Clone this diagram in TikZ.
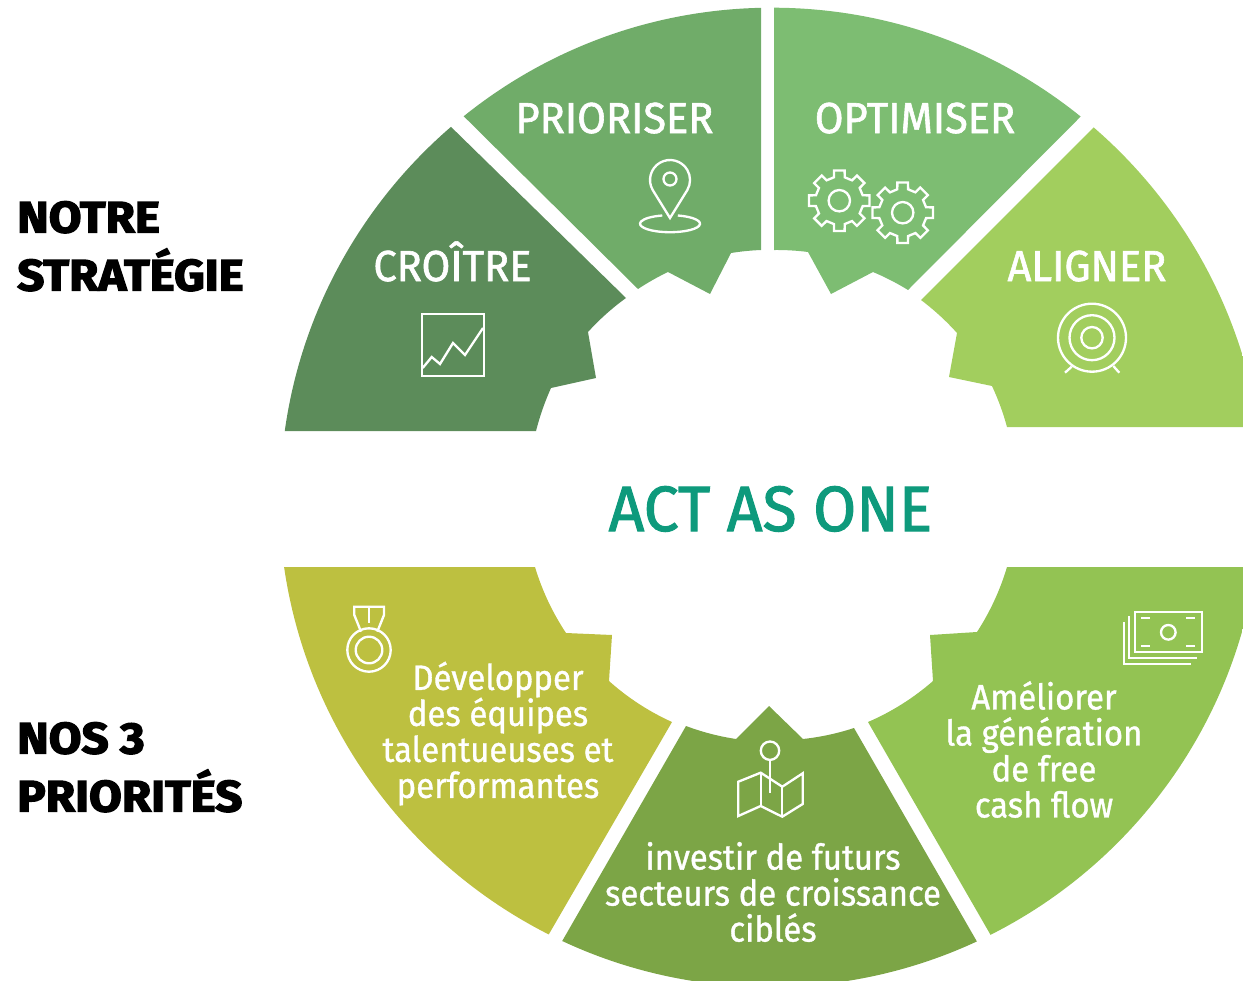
\documentclass[tikz,border=0pt]{standalone}
\usepackage{fontspec}
\setmainfont[FakeStretch=0.975,FakeBold=1.6]{Fira Sans}
\newfontfamily\capsfont[FakeStretch=0.96,FakeBold=1.4]{Fira Sans}
\newfontfamily\bodyfont[FakeStretch=0.93,FakeBold=1.0]{Fira Sans}
\newfontfamily\headfont[FakeStretch=1.08,BoldFeatures={FakeBold=3}]{Fira Sans}
\definecolor{cCroitre}{HTML}{5C8C5A}
\definecolor{cPrior}{HTML}{70AC69}
\definecolor{cOptim}{HTML}{7DBD72}
\definecolor{cAlign}{HTML}{A2CE5E}
\definecolor{cDev}{HTML}{BDC040}
\definecolor{cInvest}{HTML}{7CA546}
\definecolor{cAmel}{HTML}{93C353}
\definecolor{cTeal}{HTML}{0E9A7C}
\tikzset{
  icon/.style={draw=white,line width=1.75pt,line join=miter},
  caplabel/.style={anchor=base,text=white,inner sep=0pt,font=\capsfont\fontsize{32.5}{36}\selectfont},
  bodylabel/.style={anchor=center,text=white,inner sep=0pt,align=center,font=\bodyfont\fontsize{26.5}{27}\selectfont},
  headlabel/.style={anchor=base west,text=black,inner sep=0pt,font=\headfont\bfseries\fontsize{33}{36}\selectfont},
  centrelabel/.style={anchor=base,text=cTeal,inner sep=0pt,font=\fontsize{48}{52}\selectfont},
}
\newcommand{\gearicon}[2]{%
  \begin{scope}[shift={(#1,#2)}]
    \draw[icon] ({-13}:24) \foreach \a in {0,45,...,315}{ -- ({\a-13}:24) -- ({\a-10}:30.7) -- ({\a+10}:30.7) -- ({\a+13}:24) } -- cycle;
    \draw[icon] (0,0) circle[radius=10.7];
  \end{scope}}
\begin{document}
\begin{tikzpicture}[x=0.75pt,y=-0.75pt]
\useasboundingbox (0,0) rectangle (1243,981);
\clip (0,0) rectangle (1243,981);
% upper half of the ring
\begin{scope}
  \clip (772,499.7) circle[radius=492];
  \fill[cCroitre] (626,298) to[bend right=6,looseness=.85] (588,332) -- (596,378) -- (551,388) to[bend right=5,looseness=.85] (536,431) -- (200,431) -- (200,77) -- (400,77) -- cycle;
  \fill[cPrior] (761,250) to[bend right=3.4,looseness=.85] (731,253) -- (710,294) -- (668,272) to[bend right=4,looseness=.85] (638,289) -- (412,65) -- (412,0) -- (761,0) -- cycle;
  \fill[cOptim] (774,250) to[bend left=3.9,looseness=.85] (808,252) -- (831,294) -- (873,272) to[bend left=4.5,looseness=.85] (908,290) -- (1130,67) -- (1130,0) -- (774,0) -- cycle;
  \fill[cAlign] (921,300) to[bend left=5.6,looseness=.85] (957,333) -- (949,377) -- (992,386) to[bend left=5,looseness=.85] (1007,427) -- (1300,427) -- (1300,77) -- (1144,77) -- cycle;
\end{scope}
% lower half of the ring
\begin{scope}
  \clip (770,496) circle[radius=491];
  \fill[cDev] (535,567) to[bend right=8.5,looseness=.85] (566,633) -- (612,635) -- (609,681) to[bend right=8.8,looseness=.85] (672,722) -- (520,984) -- (200,984) -- (200,567) -- cycle;
  \fill[cInvest] (686,726) to[bend right=6,looseness=.85] (736,739) -- (769,706) -- (803,739) to[bend right=6,looseness=.85] (854,728) -- (1006,992) -- (534,990) -- cycle;
  \fill[cAmel] (868,722) to[bend right=9,looseness=.85] (933,681) -- (930,635) -- (977,632) to[bend right=8.3,looseness=.85] (1007,567) -- (1300,567) -- (1300,986) -- (1020,986) -- cycle;
\end{scope}
% icons
\draw[icon] (421.7,314) rectangle (484,376);
\draw[icon] (422.7,368) -- (431.7,357) -- (440,364) -- (453,343) -- (465,355) -- (483,328);
\draw[icon] (670,218) -- (652.7,190) arc[start angle=150,end angle=390,radius=20] -- cycle;
\draw[icon] (670,179) circle[radius=6.5];
\draw[icon] (677.8,215.5) arc[start angle=-75,end angle=255,x radius=30,y radius=8.5];
\gearicon{839.3}{200.7}
\gearicon{902.7}{212.7}
\draw[icon] (1092,337.7) circle[radius=34];
\draw[icon] (1092,337.7) circle[radius=22.5];
\draw[icon] (1092,337.7) circle[radius=10.7];
\draw[icon] (1071.7,366.7) -- (1065,372.7);
\draw[icon] (1113.3,366) -- (1119.3,372.7);
\draw[icon] (369,650) circle[radius=21.7];
\draw[icon] (369,650) circle[radius=13.3];
\draw[icon] (361,631.7) -- (354.3,615) -- (354.3,606.7) -- (384,606.7) -- (384,615) -- (377.3,631.7);
\draw[icon] (369,606.7) -- (369,623);
\draw[icon] (770,750.7) circle[radius=9.2];
\draw[icon] (770,759.9) -- (770,792.7);
\draw[icon] (738.3,781.7) -- (760.7,772.7) -- (782.3,786.7) -- (802.7,773.3) -- (802.7,804) -- (782.3,816.7) -- (760.7,806) -- (738.3,816) -- cycle;
\draw[icon] (760.7,772.7) -- (760.7,806);
\draw[icon] (782.3,786.7) -- (782.3,816.7);
\draw[icon] (1135,611.7) rectangle (1201.7,651.7);
\draw[icon] (1168.3,632.3) circle[radius=7.3];
\draw[icon] (1141,618.3) -- (1150,618.3);
\draw[icon] (1186,618.3) -- (1195,618.3);
\draw[icon] (1141,646) -- (1150,646);
\draw[icon] (1186,646) -- (1195,646);
\draw[icon] (1129.3,616) -- (1129.3,658.3) -- (1196.7,658.3);
\draw[icon] (1124,622.3) -- (1124,664) -- (1191,664);
% labels
\node[caplabel] (prioriser) at (614.5,133) {PRIORISER};
\node[caplabel] (croitre) at (452.5,281) {CROÎTRE};
\node[caplabel] (optimiser) at (915,133) {OPTIMISER};
\node[caplabel] (aligner) at (1087,281) {ALIGNER};
\node[centrelabel] (act) at (770.5,531) {ACT AS ONE};
\node[headlabel] (h1) at (17,232.5) {NOTRE};
\node[headlabel] (h2) at (17,290.5) {STRATÉGIE};
\node[headlabel] (h3) at (17,753.5) {NOS 3};
\node[headlabel] (h4) at (17,811.5) {PRIORITÉS};
\node[bodylabel] (dev) at (498,733.5) {Développer\\des équipes\\talentueuses et\\performantes};
\node[bodylabel] (inv) at (773,892) {investir de futurs\\secteurs de croissance\\ciblés};
\node[bodylabel] (amel) at (1044,749.5) {Améliorer\\la génération\\de free\\cash flow};
\end{tikzpicture}
\end{document}
